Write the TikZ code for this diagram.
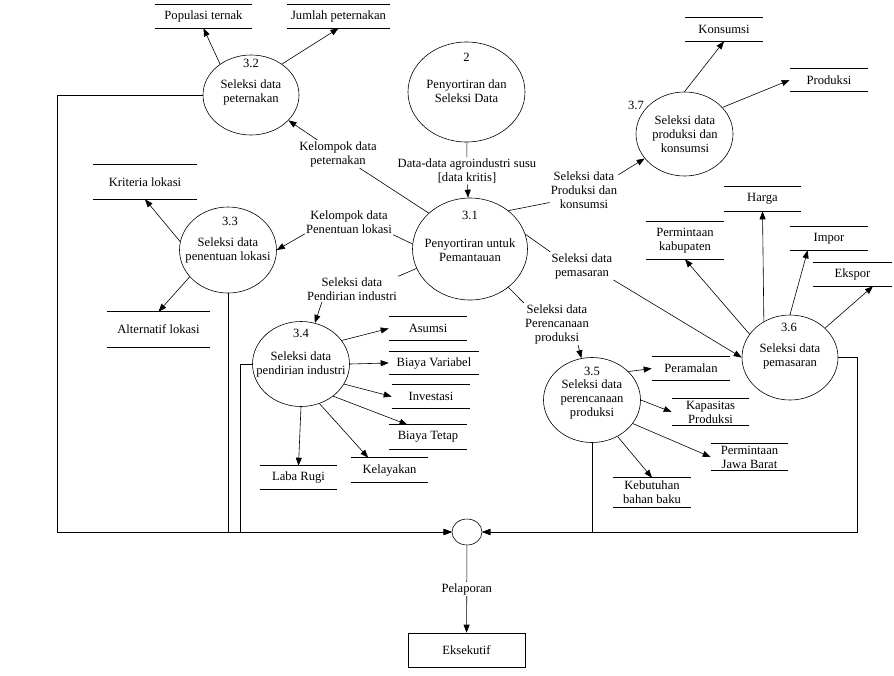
\documentclass[tikz,border=0pt]{standalone}
\usepackage{fontspec}
\setmainfont{Liberation Serif}
\usetikzlibrary{shapes.geometric,arrows.meta}

\newcommand{\datastore}[4]{%
\node[store,#3] (#1) at (#2) {#4};
\draw (#1.north west) -- (#1.north east) (#1.south west) -- (#1.south east);}

\begin{document}
\begin{tikzpicture}[x=1pt,y=-1pt,line width=0.6pt,
  proc/.style={draw,ellipse,inner sep=0pt},
  txt/.style={align=center,inner sep=1pt,font=\fontsize{12.6}{14}\selectfont},
  store/.style={txt,inner sep=0pt},
  flow/.style={-{Triangle[length=8pt,width=6pt]}}]
\useasboundingbox (0,0) rectangle (894,675);

% proses
\node[proc,minimum width=117pt,minimum height=100pt] (p2) at (466.5,92) {};
\node[txt] (n2) at (466.5,57) {2};
\node[txt] (t2) at (466.5,91) {Penyortiran dan\\Seleksi Data};
\node[proc,minimum width=115pt,minimum height=102pt] (p31) at (470,249) {};
\node[txt] (n31) at (470,215) {3.1};
\node[txt] (t31) at (470,250) {Penyortiran untuk\\Pemantauan};
\node[proc,minimum width=96pt,minimum height=80pt] (p32) at (251,95) {};
\node[txt] (n32) at (251,63) {3.2};
\node[txt] (t32) at (251,92) {Seleksi data\\peternakan};
\node[proc,minimum width=97pt,minimum height=86pt] (p33) at (228,250) {};
\node[txt] (n33) at (230,221) {3.3};
\node[txt] (t33) at (228,250) {Seleksi data\\penentuan lokasi};
\node[proc,minimum width=97pt,minimum height=85pt] (p34) at (301,364) {};
\node[txt] (n34) at (301,333) {3.4};
\node[txt] (t34) at (301,364) {Seleksi data\\pendirian industri};
\node[proc,minimum width=97pt,minimum height=85pt] (p35) at (592,400) {};
\node[txt] (n35) at (592,371) {3.5};
\node[txt] (t35) at (592,399) {Seleksi data\\perencanaan\\produksi};
\node[proc,minimum width=96pt,minimum height=85pt] (p36) at (790,357.5) {};
\node[txt] (n36) at (789,327) {3.6};
\node[txt] (t36) at (790,356.5) {Seleksi data\\pemasaran};
\node[proc,minimum width=97pt,minimum height=84pt] (p37) at (684.5,134) {};
\node[txt] (n37) at (636,105) {3.7};
\node[txt] (t37) at (685,134) {Seleksi data\\produksi dan\\konsumsi};
\node[proc,minimum width=30pt,minimum height=26pt] (junc) at (467,532) {};
\node[txt,draw,minimum width=117pt,minimum height=34pt] (eks) at (466.5,650) {Eksekutif};

% data store
\datastore{popul}{203.5,16.5}{minimum width=97pt,minimum height=23pt}{Populasi ternak}
\datastore{jumlah}{338.5,16.5}{minimum width=103pt,minimum height=23pt}{Jumlah peternakan}
\datastore{kriteria}{145,182}{minimum width=104pt,minimum height=34pt}{Kriteria lokasi}
\datastore{alternatif}{158.5,329.5}{minimum width=103pt,minimum height=35pt}{Alternatif lokasi}
\datastore{konsumsi}{724,29.5}{minimum width=78pt,minimum height=23pt}{Konsumsi}
\datastore{produksi}{829,80}{minimum width=78pt,minimum height=22pt}{Produksi}
\datastore{harga}{762.5,199}{minimum width=77pt,minimum height=24pt}{Harga}
\datastore{permkab}{685,240.5}{minimum width=78pt,minimum height=37pt}{Permintaan\\kabupaten}
\datastore{impor}{829,238.5}{minimum width=78pt,minimum height=23pt}{Impor}
\datastore{ekspor}{852.5,274.5}{minimum width=79pt,minimum height=23pt}{Ekspor}
\datastore{peramalan}{691,368.5}{minimum width=78pt,minimum height=23pt}{Peramalan}
\datastore{asumsi}{428,328.5}{minimum width=78pt,minimum height=23pt}{Asumsi}
\datastore{biayavar}{434,363}{minimum width=90pt,minimum height=22pt}{Biaya Variabel}
\datastore{investasi}{431,396.5}{minimum width=78pt,minimum height=23pt}{Investasi}
\datastore{biayatetap}{428,437}{minimum width=78pt,minimum height=24pt}{Biaya Tetap}
\datastore{kelayakan}{389.5,470}{minimum width=77pt,minimum height=24pt}{Kelayakan}
\datastore{labarugi}{298.5,477.5}{minimum width=77pt,minimum height=23pt}{Laba Rugi}
\datastore{kapasitas}{710.5,412}{minimum width=77pt,minimum height=26pt}{Kapasitas\\Produksi}
\datastore{permjabar}{749.5,457}{minimum width=77pt,minimum height=26pt}{Permintaan\\Jawa Barat}
\datastore{kebutuhan}{652,492.5}{minimum width=78pt,minimum height=29pt}{Kebutuhan\\bahan baku}

% label aliran
\node[txt] (lblpet) at (338,154) {Kelompok data\\peternakan};
\node[txt] (lbldata) at (467,171) {Data-data agroindustri susu\\{[data kritis]}};
\node[txt] (lblprod) at (584,190) {Seleksi data\\Produksi dan\\konsumsi};
\node[txt] (lblpem) at (582,266) {Seleksi data\\pemasaran};
\node[txt] (lblper) at (557,324) {Seleksi data\\Perencanaan\\produksi};
\node[txt] (lblpen) at (349,222) {Kelompok data\\Penentuan lokasi};
\node[txt] (lblpend) at (352,289) {Seleksi data\\Pendirian industri};

\coordinate (jl1) at (57,532);
\coordinate (jl2) at (240,532);
\coordinate (jr1) at (857,532);

% aliran dari 3.1
\draw (p2) -- (lbldata);
\draw[flow] (lbldata) -- (p31);
\draw (p31.139) -- (lblpet);
\draw[flow] (lblpet) -- (p32);
\draw (p31.45) -- (lblprod.200);
\draw[flow] (lblprod.24) -- (p37);
\draw (p31.15) -- (lblpem.north west);
\draw[flow] (lblpem.south east) -- (p36.west);
\draw (p31.-45) -- (lblper.north west);
\draw[flow] (lblper.-45) -- (p35);
\draw (p31.175) -- (lblpen.south east);
\draw[flow] (lblpen.195) -- (p33.east);
\draw (p31.200) -- (lblpend.north east);
\draw[flow] (lblpend.-157) -- (p34);

% aliran ke data store
\draw[flow] (p32.135) -- (popul.south);
\draw[flow] (p32.45) -- (jumlah.south);
\draw[flow] (p33.170) -- (kriteria.south);
\draw[flow] (p33.-145) -- (alternatif.north);
\draw[flow] (p34.30) -- (asumsi.west);
\draw[flow] (p34.east) -- (biayavar.west);
\draw[flow] (p34.-25) -- (investasi.west);
\draw[flow] (p34.-45) -- (biayatetap.149);
\draw[flow] (p34.-65) -- (kelayakan.150);
\draw[flow] (p34.south) -- (labarugi.north);
\draw[flow] (p35.38) -- (peramalan.west);
\draw[flow] (p35.east) -- (kapasitas.west);
\draw[flow] (p35.-30) -- (permjabar.west);
\draw[flow] (p35.-55) -- (kebutuhan.north);
\draw[flow] (p36.150) -- (permkab.south);
\draw[flow] (p36.126) -- (harga.south);
\draw[flow] (p36.north) -- (impor.209);
\draw[flow] (p36.40) -- (ekspor.-30);
\draw[flow] (p37.north) -- (konsumsi.south);
\draw[flow] (p37.35) -- (produksi.west);

% pelaporan
\draw[flow] (p32.west) -| (jl1) -- (junc);
\draw[flow] (p33) |- (junc);
\draw[flow] (p34.west) -| (jl2) -- (junc);
\draw[flow] (p35) |- (junc);
\draw[flow] (p36.east) -| (jr1) -- (junc);
\draw[flow] (junc) -- node[txt,fill=white] (lblpel) {Pelaporan} (eks);

\end{tikzpicture}
\end{document}
